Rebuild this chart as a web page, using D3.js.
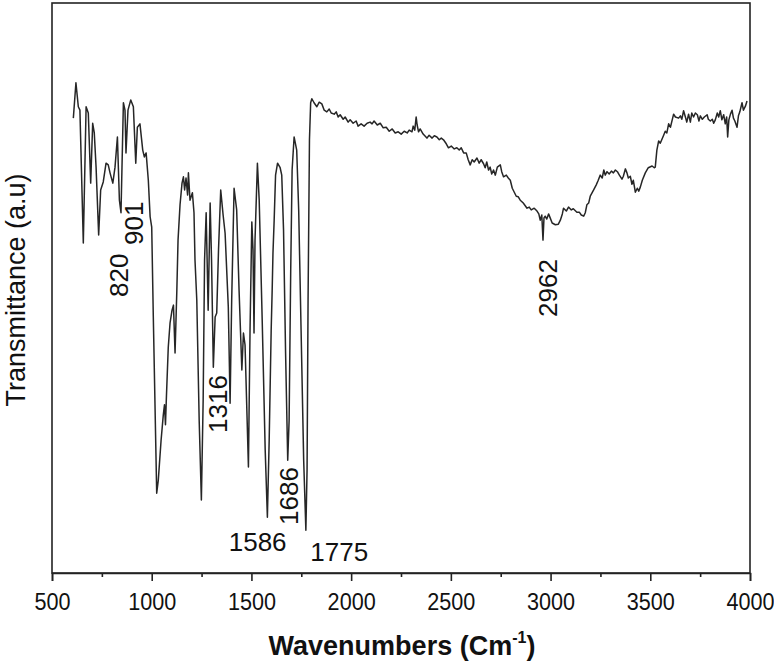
<!DOCTYPE html>
<html>
<head>
<meta charset="utf-8">
<script src="https://cdn.jsdelivr.net/npm/d3@7"></script>
<style>
  body { margin: 0; background: #fff; }
  svg { display: block; }
</style>
</head>
<body>
<svg id="chart" width="774" height="665"></svg>
<script>
// FTIR spectrum, wavenumber (cm-1) vs transmittance (a.u.)
var wavenumbers = [
  607,620,632,640,657,671,682,694,704,712,
  721,734,744,757,771,782,791,805,816,828,
  838,846,858,866,871,881,895,908,920,928,
  941,955,963,972,983,992,1000,1008,1025,1033,
  1047,1058,1064,1069,1074,1083,1092,1102,1109,1117,
  1126,1132,1142,1152,1159,1165,1172,1180,1184,1192,
  1204,1212,1217,1226,1238,1249,1258,1265,1273,1283,
  1293,1300,1309,1318,1326,1335,1346,1358,1368,1384,
  1393,1401,1413,1426,1438,1452,1460,1468,1485,1493,
  1502,1508,1513,1518,1530,1539,1554,1569,1580,1589,
  1599,1604,1608,1614,1621,1631,1644,1652,1661,1671,
  1682,1689,1697,1704,1714,1727,1737,1749,1762,1773,
  1779,1784,1791,1797,1803,1814,1828,1840,1853,
  1865,1878,1890,1900,1915,1925,1935,1945,1960,1970,
  1985,1995,2010,2025,2035,2050,2065,2080,2095,2105,
  2115,2131,2146,2161,2176,2191,2206,2221,2236,2251,
  2266,2281,2291,2305,2311,2319,2326,2331,2338,2346,
  2361,2380,2391,2406,2417,2430,2442,2452,2463,2477,
  2488,2502,2517,2530,2542,2552,2564,2577,2587,2597,
  2607,2617,2631,2642,2652,2664,2672,2680,2689,2697,
  2705,2714,2723,2733,2748,2755,2764,2778,2788,2798,
  2808,2818,2828,2838,2848,2863,2882,2893,2903,2918,
  2932,2941,2948,2956,2962,2967,2973,2981,2990,2998,
  3008,3024,3039,3049,3059,3065,3079,3090,3104,3114,
  3132,3144,3154,3166,3174,3182,3191,3199,3216,3229,
  3239,3249,3259,3267,3274,3283,3294,3305,3315,3325,
  3335,3345,3358,3365,3375,3383,3390,3400,3408,3415,
  3425,3435,3442,3450,3460,3475,3490,3509,3520,3525,
  3533,3542,3550,3567,3575,3583,3592,3601,3617,3626,
  3642,3651,3658,3667,3676,3683,3692,3701,3708,3717,
  3726,3736,3744,3751,3761,3771,3785,3791,3801,3811,
  3818,3826,3836,3843,3851,3859,3868,3876,3883,3888,
  3894,3902,3910,3917,3924,3935,3942,3949,3960,3967,
  3977,3985
];

var transmittance = [
  79.8,86.0,81.8,81.2,57.9,81.8,80.7,68.4,78.9,77.2,
  71.2,59.3,67.2,68.6,71.9,71.6,70.2,68.4,71.2,76.5,
  65.4,63.2,82.5,81.2,73.7,81.2,83.0,81.8,71.9,78.2,
  78.8,74.2,73.0,73.7,68.9,62.5,60.7,44.9,14.0,16.3,
  23.3,27.7,29.5,26.0,31.2,39.6,43.9,46.1,47.0,38.6,
  49.6,58.4,64.6,68.4,69.5,67.2,69.3,66.3,70.2,65.4,
  66.7,63.2,54.9,47.9,26.8,12.8,30.4,54.9,63.2,46.1,
  64.9,54.9,36.1,44.9,45.6,56.7,67.2,62.8,59.6,46.7,
  29.8,47.9,67.5,63.7,49.6,35.6,42.1,40.0,18.6,42.6,
  61.6,56.7,42.1,58.4,71.9,65.4,44.4,21.6,9.8,23.3,
  42.6,49.6,56.1,61.9,69.8,71.9,71.1,69.8,60.2,39.1,
  19.8,26.8,53.2,70.7,76.5,74.2,63.7,42.6,19.8,7.5,
  18.1,47.9,76.0,82.5,83.2,82.5,81.8,82.6,82.3,
  81.2,80.9,81.4,80.7,80.5,80.9,80.0,80.4,79.6,80.0,
  79.1,79.5,78.9,79.3,78.4,78.8,78.4,78.9,79.1,78.8,
  79.3,78.6,78.9,78.1,78.2,77.5,77.9,77.2,77.4,77.0,
  77.5,77.2,77.7,77.4,78.4,77.7,80.0,78.6,77.4,77.9,
  77.0,76.3,76.8,76.3,76.7,76.5,76.0,76.3,76.0,75.3,
  74.6,74.9,74.4,74.6,74.2,74.6,73.7,73.7,72.5,71.6,
  72.5,72.1,72.8,71.9,72.5,71.8,71.1,72.1,70.7,71.2,
  70.0,70.7,69.8,71.2,71.6,70.4,69.5,69.8,69.3,68.9,
  67.5,66.8,66.1,66.0,65.4,64.9,64.0,64.2,63.7,64.0,
  63.5,63.0,61.9,62.8,58.4,62.3,62.6,62.1,63.0,62.3,
  61.4,61.1,61.2,61.9,63.0,64.0,63.5,64.2,63.7,63.9,
  63.3,63.3,62.8,62.6,63.2,64.6,64.9,66.1,67.2,68.1,
  68.9,69.8,69.3,70.7,69.8,70.4,70.0,70.5,70.2,70.7,
  70.4,69.8,69.1,69.6,70.9,70.2,69.3,69.6,68.2,68.9,
  66.8,67.5,67.0,67.7,68.9,70.2,71.1,71.4,71.1,71.2,
  74.2,75.8,75.4,76.8,77.5,77.2,78.8,78.2,80.5,80.0,
  79.8,80.2,79.6,81.1,80.0,79.1,80.5,79.1,80.7,80.0,
  80.7,80.4,79.3,80.2,79.6,80.0,80.4,79.6,79.3,79.6,
  78.9,79.5,80.7,80.0,81.1,79.5,80.4,78.8,80.0,76.5,
  79.5,80.5,81.2,79.8,79.3,78.2,80.2,80.9,82.5,81.2,
  81.9,82.8
];

var xTicks = [500, 1000, 1500, 2000, 2500, 3000, 3500, 4000];
var xMinorTicks = [750, 1250, 1750, 2250, 2750, 3250, 3750];

// peak annotations (wavenumber label)
var peakLabels = ["820", "901", "1316", "1586", "1686", "1775", "2962"];

if (wavenumbers.length !== transmittance.length) {
  console.warn("length mismatch", wavenumbers.length, transmittance.length);
}

var data = wavenumbers.map(function (w, i) { return {wn: w, t: transmittance[i]}; });

var svg = d3.select("#chart");
var margin = {top: 3, right: 24, bottom: 92, left: 52},
    width = 774 - margin.left - margin.right,
    height = 665 - margin.top - margin.bottom;

var x = d3.scaleLinear().domain([500, 4000]).range([0, width]);
var y = d3.scaleLinear().domain([0, 100]).range([height, 0]);

var g = svg.append("g")
    .attr("transform", "translate(" + margin.left + "," + margin.top + ")");

// spectrum
var line = d3.line()
    .x(function (d) { return x(d.wn); })
    .y(function (d) { return y(d.t); });

g.append("path")
    .datum(data)
    .attr("fill", "none")
    .attr("stroke", "#262626")
    .attr("stroke-width", 1.5)
    .attr("stroke-linejoin", "round")
    .attr("d", line);

// frame
g.append("rect")
    .attr("x", 0).attr("y", 0)
    .attr("width", width).attr("height", height)
    .attr("fill", "none")
    .attr("stroke", "#222")
    .attr("stroke-width", 1.6);

// minor ticks
g.append("g")
    .attr("transform", "translate(0," + height + ")")
    .call(d3.axisBottom(x).tickValues(xMinorTicks).tickSize(4).tickFormat(""))
    .call(function (a) { a.select(".domain").remove(); })
    .selectAll("line").attr("stroke", "#222").attr("stroke-width", 1.6);

// major ticks + labels
var xAxis = g.append("g")
    .attr("transform", "translate(0," + height + ")")
    .call(d3.axisBottom(x).tickValues(xTicks).tickSize(8).tickPadding(12).tickFormat(d3.format("d")));
xAxis.select(".domain").attr("stroke", "#222").attr("stroke-width", 1.6);
xAxis.selectAll("line").attr("stroke", "#222").attr("stroke-width", 1.6);
xAxis.selectAll("text")
    .attr("fill", "#111")
    .attr("font-family", "'Liberation Sans', Arial, sans-serif")
    .attr("font-size", 24)
    .attr("transform", "scale(0.9,1)");

// axis titles
var title = svg.append("text")
    .attr("x", margin.left + width / 2 + 1)
    .attr("y", 655)
    .attr("text-anchor", "middle")
    .attr("font-family", "'Liberation Sans', Arial, sans-serif")
    .attr("font-weight", "bold")
    .attr("font-size", 27)
    .attr("fill", "#111");
title.append("tspan").text("Wavenumbers (Cm");
title.append("tspan").attr("font-size", 16).attr("dy", -12).text("-1");
title.append("tspan").attr("dy", 12).text(")");

svg.append("text")
    .attr("transform", "translate(25," + 290 + ") rotate(-90)")
    .attr("text-anchor", "middle")
    .attr("font-family", "'Liberation Sans', Arial, sans-serif")
    .attr("font-size", 27)
    .attr("fill", "#111")
    .text("Transmittance (a.u)");

// peak labels: rotated ones sit under their band, two are horizontal
var labelLayout = {
  "820":  {dx: 12,  y: 297, rot: true},
  "901":  {dx: 11,  y: 245, rot: true},
  "1316": {dx: 12,  y: 433, rot: true},
  "1586": {dx: 18,  y: 551, rot: false, anchor: "end"},
  "1686": {dx: 9,   y: 525, rot: true},
  "1775": {dx: 4,   y: 561, rot: false, anchor: "start"},
  "2962": {dx: 14,  y: 317, rot: true}
};

peakLabels.forEach(function (lbl) {
  var p = labelLayout[lbl];
  var px = margin.left + x(+lbl) + p.dx;
  var t = svg.append("text")
      .attr("font-family", "'Liberation Sans', Arial, sans-serif")
      .attr("font-size", 26)
      .attr("fill", "#111")
      .text(lbl);
  if (p.rot) {
    t.attr("transform", "translate(" + px + "," + p.y + ") rotate(-90)");
  } else {
    t.attr("x", px).attr("y", p.y).attr("text-anchor", p.anchor);
  }
});
</script>
</body>
</html>
